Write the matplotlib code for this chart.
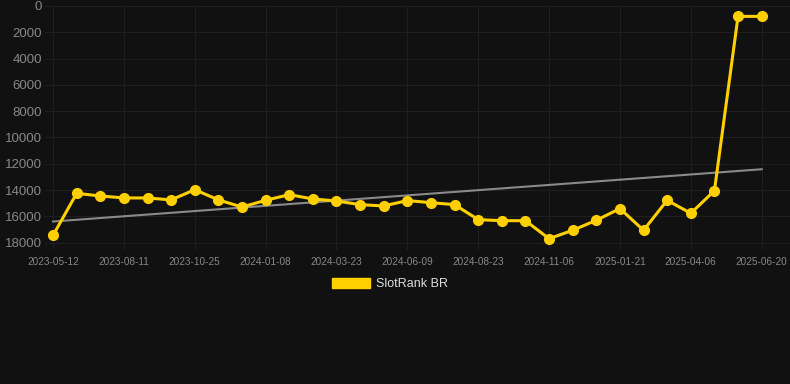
import numpy as np
import matplotlib.pyplot as plt
from matplotlib.patches import Patch

plt.rcParams['font.family'] = ['Liberation Sans', 'DejaVu Sans']

# rank per sample (lower is better), every third sample is labelled
ranks = [17450, 14250, 14450, 14600, 14600, 14750, 13970, 14750, 15290, 14780,
         14350, 14680, 14830, 15110, 15210, 14800, 14960, 15110, 16250, 16330,
         16330, 17700, 17060, 16300, 15410, 17060, 14780, 15770, 14050, 790, 790]
tick_labels = ['2023-05-12', '2023-08-11', '2023-10-25', '2024-01-08', '2024-03-23',
               '2024-06-09', '2024-08-23', '2024-11-06', '2025-01-21', '2025-04-06',
               '2025-06-20']

bg = '#111111'
yellow = '#FFD000'

fig = plt.figure(figsize=(7.9, 3.84), dpi=100, facecolor=bg)
ax = fig.add_axes([45 / 790, 1 - 250 / 384, 745 / 790, 244 / 384])
ax.set_facecolor(bg)

x = np.arange(len(ranks))
# trend line
k, b = np.polyfit(x, ranks, 1)
ax.plot(x, k * x + b, color='#8a8a8a', lw=1.5, zorder=2)
ax.plot(x, ranks, color=yellow, lw=2.2, marker='o', ms=7, zorder=3)

ax.set_xlim(-0.34, 31.2)
ax.set_ylim(18560, 0)
ax.set_yticks(np.arange(0, 18001, 2000))
ax.set_xticks(x[::3])
ax.set_xticklabels(tick_labels)

ax.grid(True, color='#1f1f1f', lw=0.8)
for s in ax.spines.values():
    s.set_visible(False)
ax.tick_params(axis='y', colors='#888888', labelsize=9.5, length=0, pad=2)
ax.tick_params(axis='x', colors='#888888', labelsize=7.2, length=0, pad=5)

fig.legend(handles=[Patch(color=yellow, label='SlotRank BR')],
           loc='center', bbox_to_anchor=(390 / 790, 1 - 284 / 384),
           frameon=False, fontsize=9, labelcolor='#dddddd',
           handlelength=3.1, handleheight=0.8, handletextpad=0.5)

fig.savefig('out.png', dpi=100, facecolor=bg)
